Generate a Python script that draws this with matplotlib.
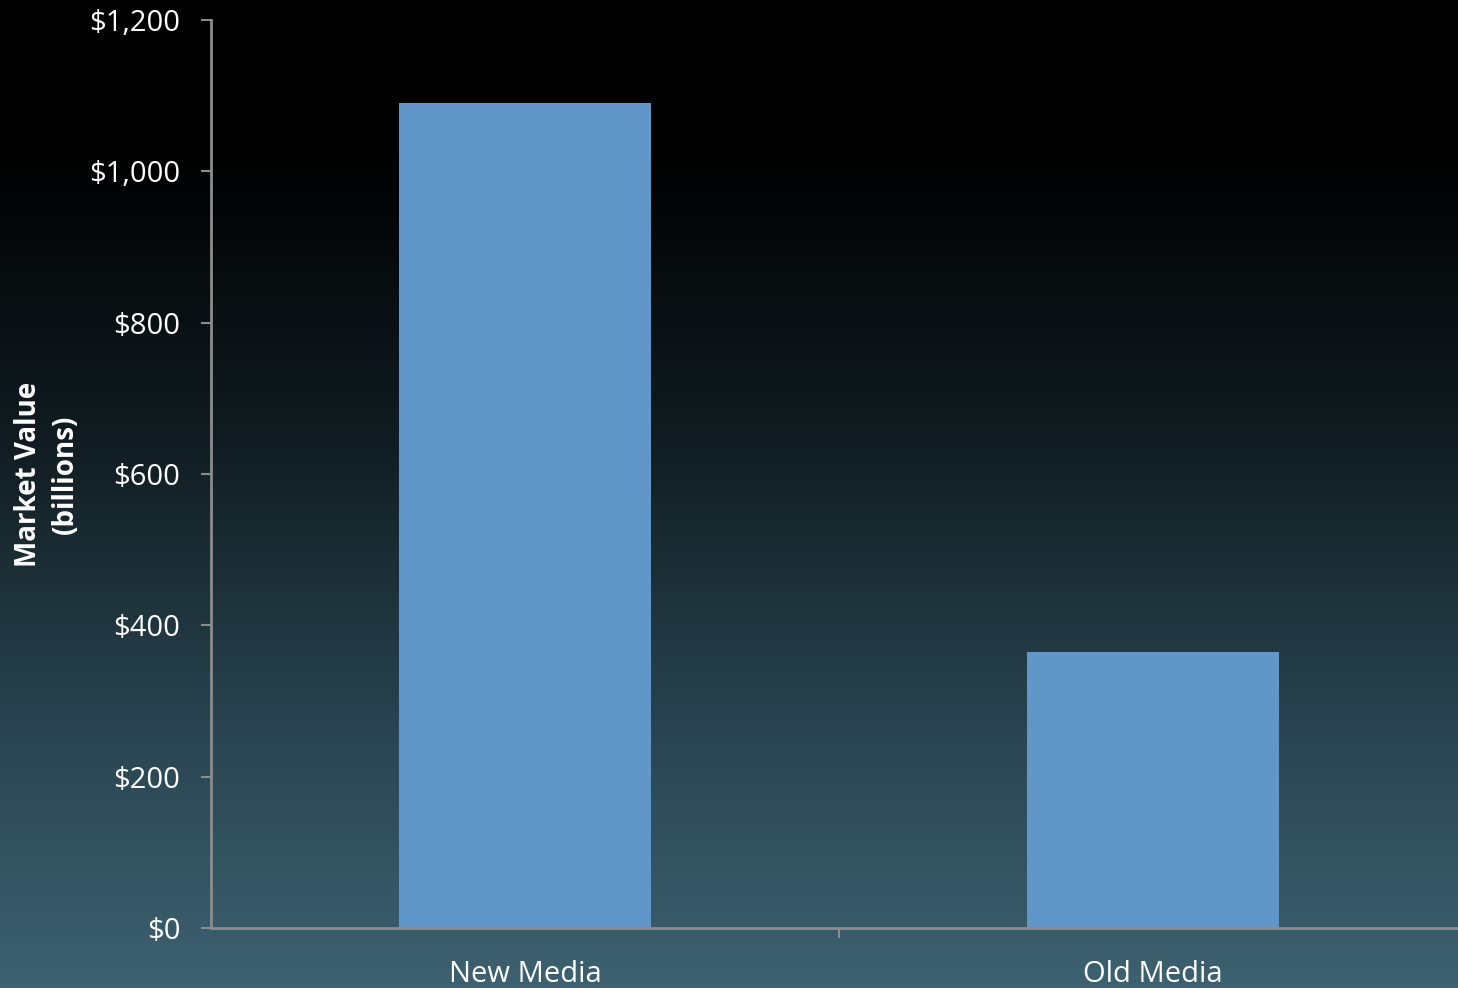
import matplotlib
matplotlib.use('Agg')
import matplotlib.pyplot as plt
import numpy as np
from matplotlib.colors import LinearSegmentedColormap
from matplotlib.ticker import FuncFormatter, FixedLocator

# Data
categories = ['New Media', 'Old Media']
market_value = [1090, 365]   # billions of dollars
y_ticks = [0, 200, 400, 600, 800, 1000, 1200]

plt.rcParams['font.family'] = ['Open Sans', 'DejaVu Sans']

fig = plt.figure(figsize=(14.58, 9.88), dpi=100)

# Background gradient: black at top to slate teal at bottom
bg = fig.add_axes([0, 0, 1, 1], zorder=0)
grad_cmap = LinearSegmentedColormap.from_list(
    'bg', [(0.0, '#000000'), (0.15, '#000000'), (0.45, '#111d22'),
           (0.75, '#2a4652'), (1.0, '#3d6170')])
grad = np.linspace(0, 1, 256).reshape(-1, 1)
bg.imshow(grad, aspect='auto', cmap=grad_cmap, extent=[0, 1, 1, 0])
bg.axis('off')

ax = fig.add_axes([211 / 1458, 1 - 928 / 988, 1256 / 1458, 908 / 988], zorder=1)
ax.patch.set_alpha(0)

x = np.arange(len(categories))
ax.bar(x, market_value, width=0.4, color='#6196c9', zorder=2)

ax.set_xlim(-0.5, 1.5)
ax.set_ylim(0, 1200)
ax.set_yticks(y_ticks)
ax.yaxis.set_major_formatter(FuncFormatter(lambda v, p: f'${v:,.0f}'))

ax.set_xticks(x)
ax.set_xticklabels(categories)
ax.xaxis.set_minor_locator(FixedLocator([0.5]))
ax.tick_params(axis='x', which='major', length=0, pad=23, labelsize=21, labelcolor='white')
ax.tick_params(axis='x', which='minor', length=7, width=1.5, color='#8c8c8c')
ax.tick_params(axis='y', length=7, width=1.5, color='#8c8c8c', pad=15,
               labelsize=21, labelcolor='white')

for side in ['top', 'right']:
    ax.spines[side].set_visible(False)
for side in ['left', 'bottom']:
    ax.spines[side].set_color('#8c8c8c')
    ax.spines[side].set_linewidth(2)

fig.text(0.032, 1 - 474 / 988, 'Market Value\n(billions)', rotation=90,
         ha='center', va='center', color='white', fontsize=20,
         fontweight='bold', linespacing=1.35)

fig.savefig('out.png', dpi=100)
